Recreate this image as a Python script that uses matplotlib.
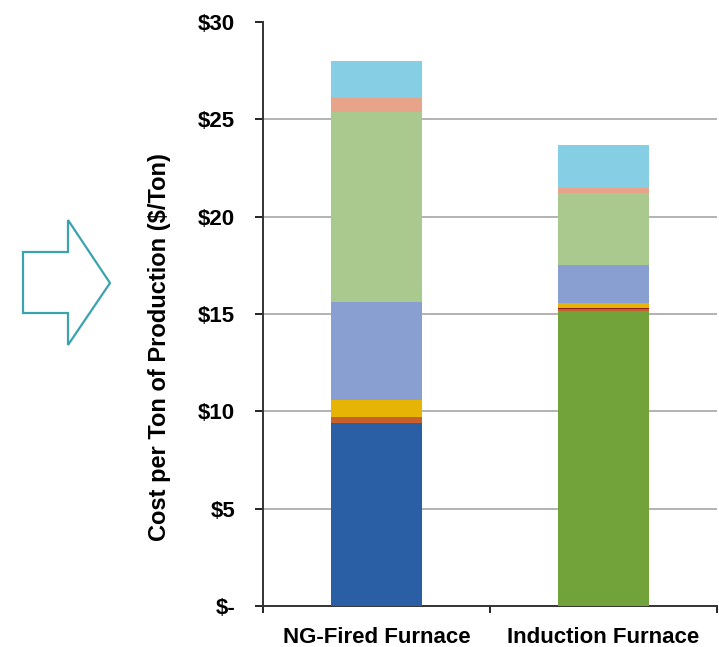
import numpy as np
import matplotlib
matplotlib.use("Agg")
from matplotlib import pyplot as plt
from matplotlib.patches import Polygon

plt.rcParams['font.family'] = ['Liberation Sans', 'DejaVu Sans']
plt.rcParams['font.weight'] = 'bold'

categories = ["NG-Fired Furnace", "Induction Furnace"]

# cost components per ton, bottom to top
natural_gas = [9.40, 0.0]
electricity = [0.0, 15.15]
component_a = [0.33, 0.10]
component_b = [0.0, 0.08]
component_c = [0.84, 0.21]
component_d = [5.04, 1.98]
component_e = [9.75, 3.72]
component_f = [0.72, 0.21]
component_g = [1.93, 2.24]

series = [natural_gas, electricity, component_a, component_b, component_c,
          component_d, component_e, component_f, component_g]
colors = ["#2a5fa6", "#72a33a", "#c8602a", "#8e1e1e", "#e6b404",
          "#8a9fd1", "#aac98f", "#e8a48a", "#86cee4"]

y_ticks = [0, 5, 10, 15, 20, 25, 30]
y_tick_labels = ["$-", "$5", "$10", "$15", "$20", "$25", "$30"]

fig = plt.figure(figsize=(7.19, 6.47), dpi=100)
ax = fig.add_axes([0.3658, 0.0634, 0.6314, 0.9026])

x = np.arange(len(categories))
bottom = np.zeros(len(categories))
for vals, c in zip(series, colors):
    vals = np.array(vals)
    ax.bar(x, vals, width=0.40, bottom=bottom, color=c, zorder=3)
    bottom += vals

ax.set_xlim(-0.5, 1.5)
ax.set_ylim(0, 30)
ax.set_yticks(y_ticks)
ax.set_yticklabels(y_tick_labels, fontsize=16, fontweight='bold')
ax.set_xticks(x)
ax.set_xticklabels(categories, fontsize=16, fontweight='bold')
ax.tick_params(axis='x', which='major', length=0, pad=15)
ax.set_xticks([-0.5, 0.5, 1.5], minor=True)
ax.tick_params(axis='x', which='minor', length=5, width=1.2, direction='out')
ax.tick_params(axis='y', length=6, width=1.2, direction='out', pad=14)

# horizontal gridlines except at the top edge
for yv in y_ticks[1:-1]:
    ax.axhline(yv, color="#a6a6a6", lw=1.2, zorder=1)

for side in ['top', 'right']:
    ax.spines[side].set_visible(False)
for side in ['left', 'bottom']:
    ax.spines[side].set_linewidth(1.4)
    ax.spines[side].set_color("#333333")

ax.set_ylabel("Cost per Ton of Production ($/Ton)", fontsize=17,
              fontweight='bold')
ax.yaxis.set_label_coords(-0.203, 0.4435)

# outlined arrow on the left
arrow_pts = [(23, 252), (68, 252), (68, 220), (110, 283),
             (68, 345), (68, 313), (23, 313)]
arrow_pts = [(px / 719, 1 - py / 647) for px, py in arrow_pts]
fig.patches.append(Polygon(arrow_pts, closed=True, fill=False,
                           edgecolor="#3aa3ae", lw=1.6,
                           transform=fig.transFigure))

fig.savefig("out.png", dpi=100)
